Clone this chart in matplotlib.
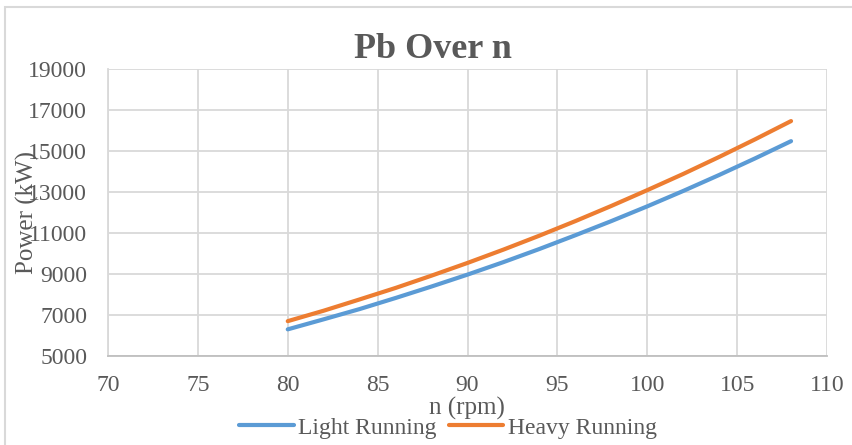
import matplotlib.pyplot as plt
from matplotlib.patches import Rectangle

# rpm values and power (kW)
n_rpm = [80, 82, 84, 86, 88, 90, 92, 94, 96, 98, 100, 102, 104, 106, 108]
light_running = [6300, 6790, 7290, 7830, 8390, 8970, 9580, 10220, 10890,
                 11580, 12300, 13050, 13830, 14640, 15480]
heavy_running = [6700, 7210, 7760, 8320, 8920, 9540, 10190, 10870, 11580,
                 12320, 13090, 13880, 14710, 15570, 16460]

x_ticks = [70, 75, 80, 85, 90, 95, 100, 105, 110]
y_ticks = [5000, 7000, 9000, 11000, 13000, 15000, 17000, 19000]

plt.rcParams['font.family'] = ['Liberation Serif', 'DejaVu Serif']
text_col = "#595959"
grid_col = "#d9d9d9"

W, H = 853, 445
fig = plt.figure(figsize=(W / 100, H / 100), dpi=100)
ax = fig.add_axes([108 / W, 1 - 356 / H, (827 - 108) / W, (356 - 69) / H])

ax.plot(n_rpm, light_running, color="#5B9BD5", lw=3, solid_capstyle="round",
        label="Light Running")
ax.plot(n_rpm, heavy_running, color="#ED7D31", lw=3, solid_capstyle="round",
        label="Heavy Running")

ax.set_xlim(70, 110)
ax.set_ylim(5000, 19000)
ax.set_xticks(x_ticks)
ax.set_yticks(y_ticks)
ax.grid(True, color=grid_col, lw=1.3)
ax.set_axisbelow(True)
ax.tick_params(length=0, labelsize=17, colors=text_col)
ax.tick_params(axis="x", pad=14)
ax.tick_params(axis="y", pad=15)
for s in ["top", "right"]:
    ax.spines[s].set_visible(False)
ax.spines["left"].set_color(grid_col)
ax.spines["bottom"].set_color("#bfbfbf")
ax.spines["left"].set_linewidth(1.3)
ax.spines["bottom"].set_linewidth(1.3)

# titles and labels (Excel style: y label sits over the tick labels)
fig.text(433 / W, 1 - 50 / H, "Pb Over n", ha="center", va="center",
         fontsize=26, fontweight="bold", color=text_col)
fig.text(27 / W, 1 - 213 / H, "Power (kW)", ha="center", va="center",
         rotation=90, fontsize=18, color=text_col)
fig.text(467 / W, 1 - 408 / H, "n (rpm)", ha="center", va="center",
         fontsize=18, color=text_col)

fig.legend(loc="center", bbox_to_anchor=(448 / W, 1 - 428 / H), ncol=2,
           frameon=False, fontsize=17, labelcolor=text_col,
           handlelength=2.3, handletextpad=0.2, columnspacing=0.5,
           borderpad=0, borderaxespad=0)

# chart border (right and bottom edges fall outside the image)
fig.patches.append(Rectangle((5 / W, -0.1), 1.2, 1.1 - 7 / H,
                             transform=fig.transFigure, fill=False,
                             edgecolor=grid_col, lw=1.5))

fig.savefig("out.png", dpi=100)
